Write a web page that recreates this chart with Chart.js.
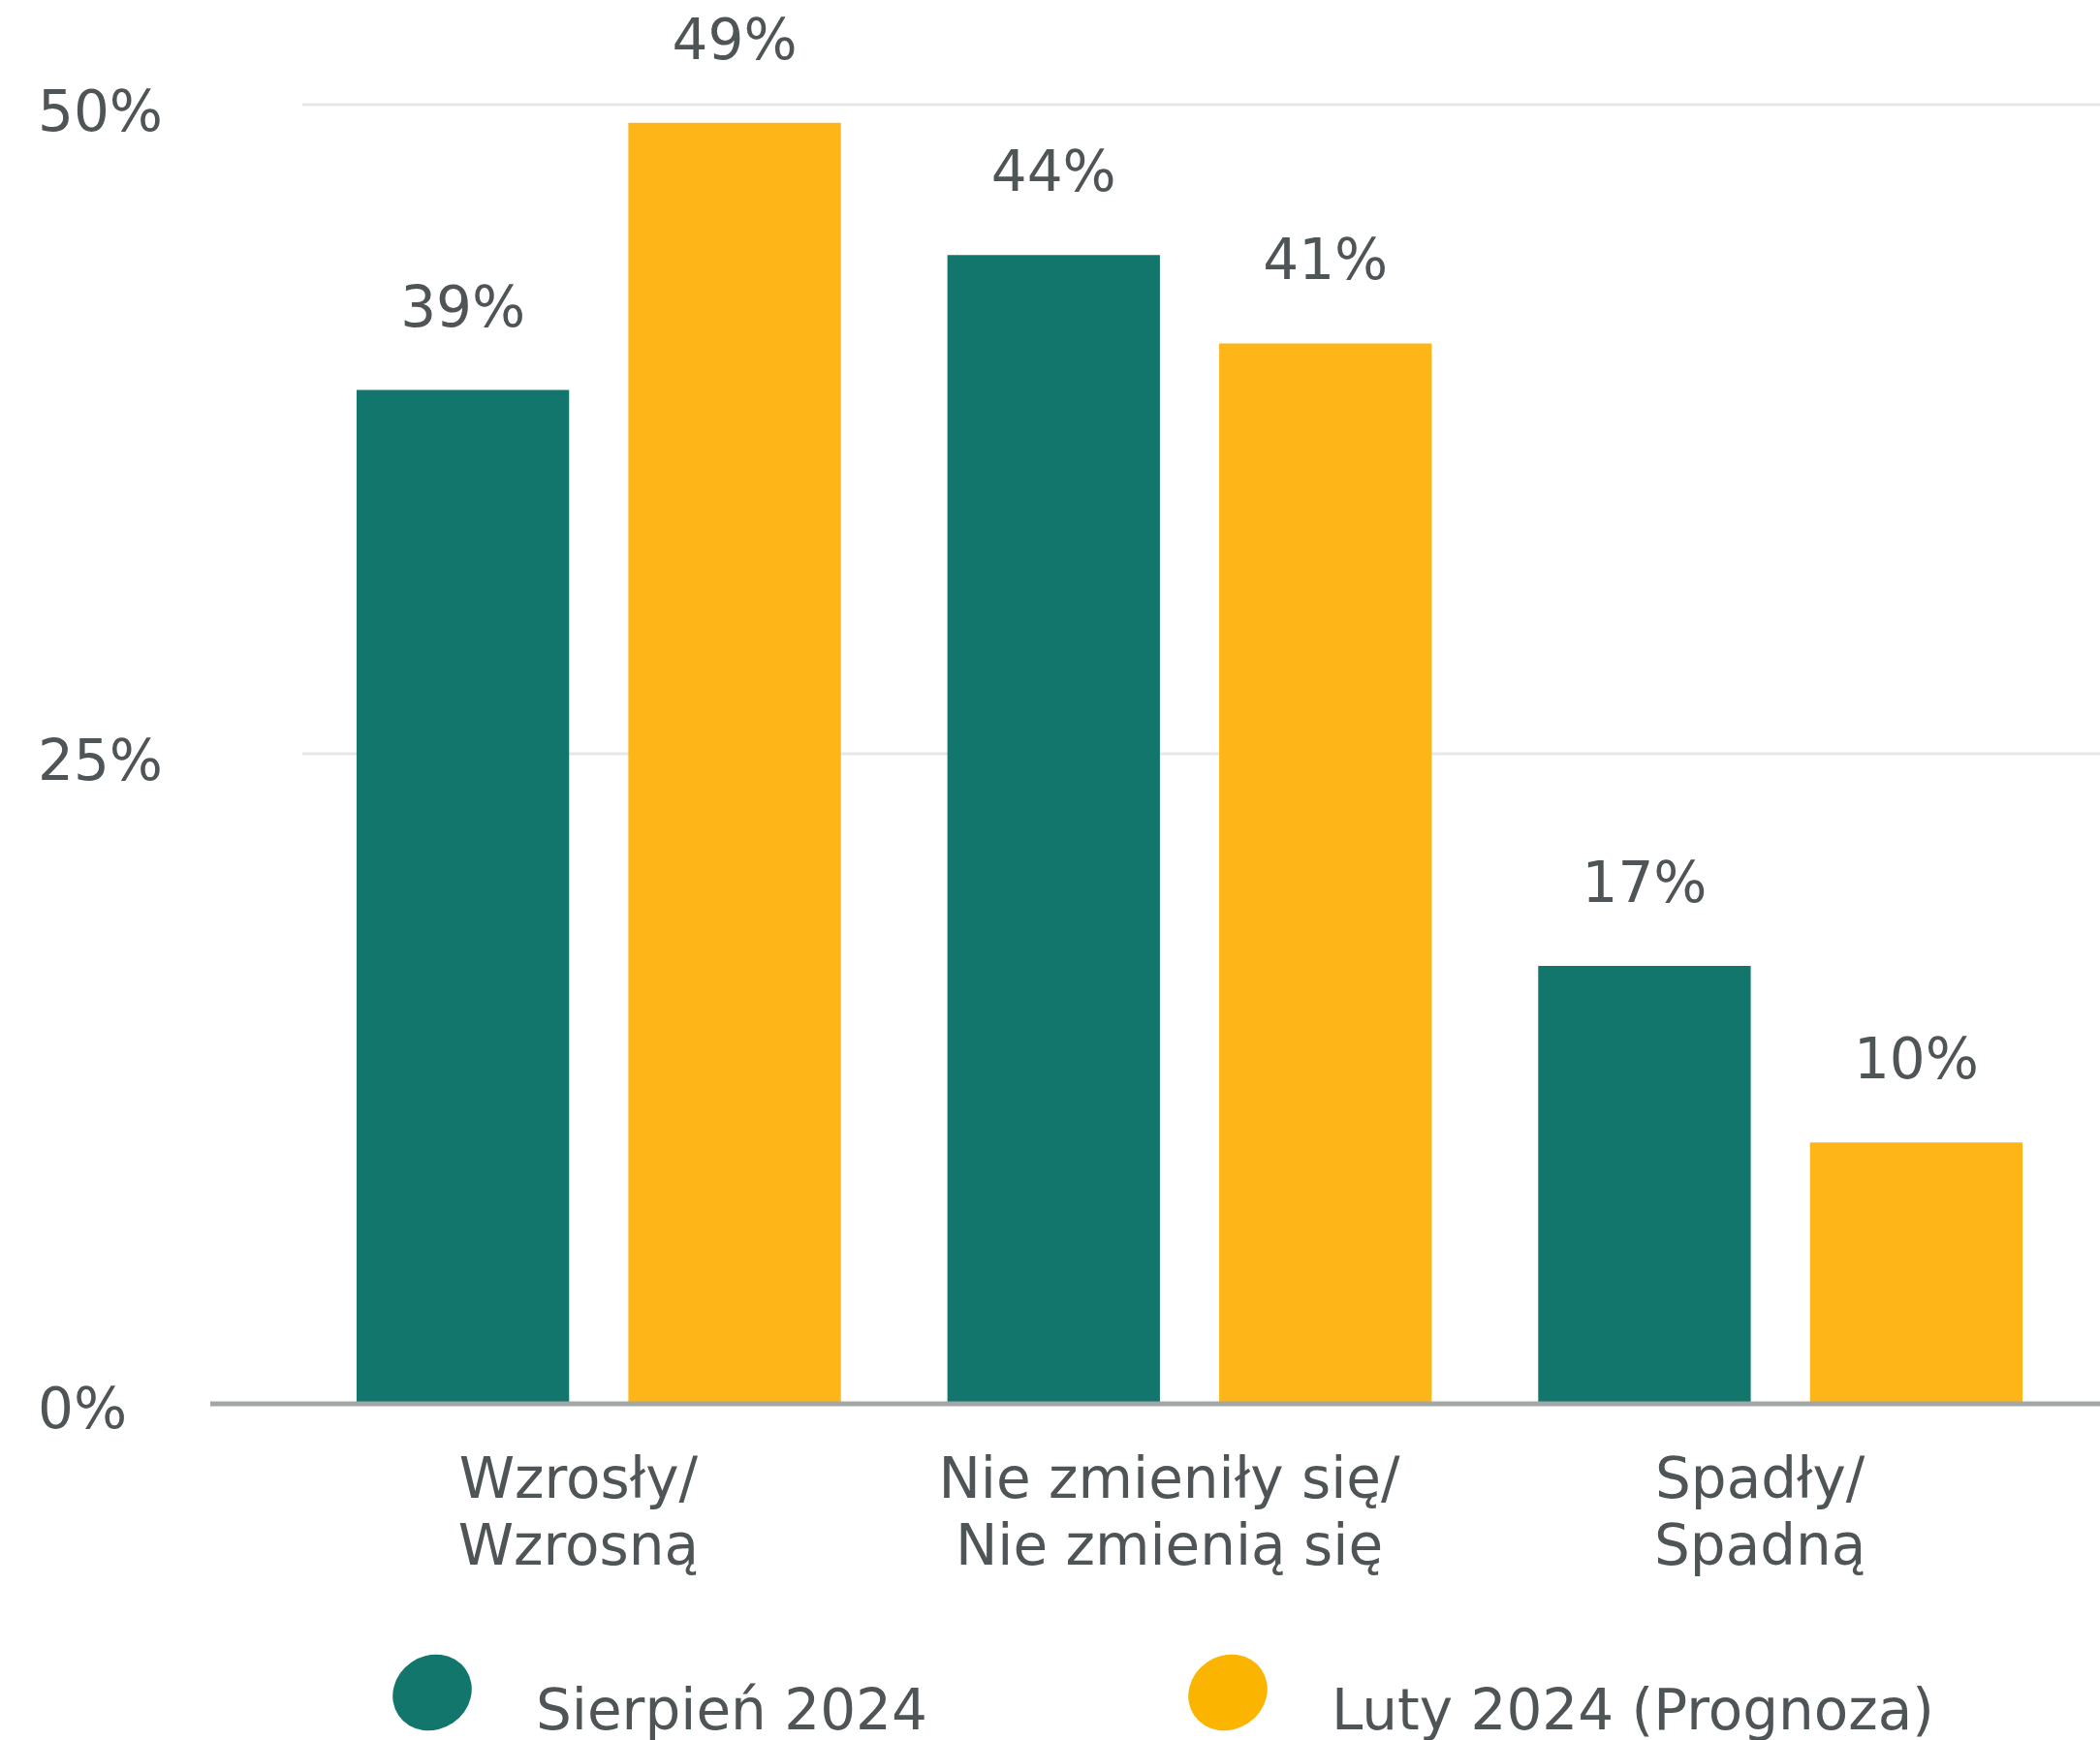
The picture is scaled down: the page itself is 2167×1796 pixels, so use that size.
<!DOCTYPE html>
<html>
<head>
<meta charset="utf-8">
<script src="https://cdn.jsdelivr.net/npm/chart.js@4.4.1/dist/chart.umd.min.js"></script>
<style>
  html, body { margin: 0; padding: 0; background: #fff; }
  canvas { display: block; }
</style>
</head>
<body>
<canvas id="chart" width="2167" height="1796"></canvas>
<script>
// ---- data ----
const categories = [["Wzrosły/", "Wzrosną"], ["Nie zmieniły się/", "Nie zmienią się"], ["Spadły/", "Spadną"]];
const seriesNames = ["Sierpień 2024", "Luty 2024 (Prognoza)"];
const august2024 = [39.0, 44.2, 16.8];
const february2024 = [49.3, 40.8, 10.0];
const yTicks = [0, 25, 50];

const TEAL = "#13766c";
const YELLOW = "#fdb518";
const TEXT = "#4f5557";
const FONT = "'DejaVu Sans', sans-serif";
const FONT_SIZE = 58;

// gridlines + baseline drawn across the full width, like the original
const gridPlugin = {
  id: "grid",
  beforeDatasetsDraw(chart) {
    const { ctx, scales: { y }, chartArea, width } = chart;
    ctx.save();
    yTicks.forEach(v => {
      if (v === 0) return;
      const py = Math.round(y.getPixelForValue(v));
      ctx.strokeStyle = "#e6e7e8";
      ctx.lineWidth = 3;
      ctx.beginPath();
      ctx.moveTo(chartArea.left - 1, py);
      ctx.lineTo(width, py);
      ctx.stroke();
    });
    ctx.restore();
  },
  afterDatasetsDraw(chart) {
    const { ctx, scales: { y }, width } = chart;
    const py = y.getPixelForValue(0) + 2;
    ctx.save();
    ctx.strokeStyle = "#a2a6a6";
    ctx.lineWidth = 5;
    ctx.beginPath();
    ctx.moveTo(217, py);
    ctx.lineTo(width, py);
    ctx.stroke();
    ctx.restore();
  }
};

// value labels above the bars
const valueLabels = {
  id: "valueLabels",
  afterDatasetsDraw(chart) {
    const { ctx } = chart;
    ctx.save();
    ctx.font = FONT_SIZE + "px " + FONT;
    ctx.fillStyle = TEXT;
    ctx.textAlign = "center";
    ctx.textBaseline = "alphabetic";
    chart.data.datasets.forEach((ds, i) => {
      chart.getDatasetMeta(i).data.forEach((bar, j) => {
        ctx.fillText(Math.round(ds.data[j]) + "%", bar.x, bar.y - 66);
      });
    });
    ctx.restore();
  }
};

// legend with blob markers at the bottom
const blobLegend = {
  id: "blobLegend",
  afterDraw(chart) {
    const { ctx } = chart;
    const items = [
      { cx: 446, tx: 553 },
      { cx: 1267, tx: 1374 }
    ];
    ctx.save();
    chart.data.datasets.forEach((ds, i) => {
      const it = items[i];
      ctx.fillStyle = i === 0 ? TEAL : "#fbb400";
      ctx.beginPath();
      ctx.ellipse(it.cx, 1747, 42, 38, -0.6, 0, Math.PI * 2);
      ctx.fill();
      ctx.font = FONT_SIZE + "px " + FONT;
      ctx.fillStyle = TEXT;
      ctx.textAlign = "left";
      ctx.textBaseline = "alphabetic";
      ctx.fillText(ds.label, it.tx, 1785);
    });
    ctx.restore();
  }
};

new Chart(document.getElementById("chart"), {
  type: "bar",
  data: {
    labels: categories,
    datasets: [
      { label: seriesNames[0], data: august2024, backgroundColor: TEAL },
      { label: seriesNames[1], data: february2024, backgroundColor: YELLOW }
    ]
  },
  options: {
    responsive: false,
    animation: false,
    devicePixelRatio: 1,
    layout: { padding: { top: 108, left: 39, right: 25, bottom: 0 } },
    categoryPercentage: 0.92,
    barPercentage: 0.782,
    plugins: { legend: { display: false }, tooltip: { enabled: false } },
    scales: {
      x: {
        grid: { display: false, drawTicks: false },
        border: { display: false },
        ticks: {
          color: TEXT,
          font: { family: FONT, size: FONT_SIZE, lineHeight: 1.18 },
          padding: 50,
          labelOffset: -21,
          maxRotation: 0,
          autoSkip: false
        },
        afterFit(scale) { scale.height = 349; }
      },
      y: {
        min: 0,
        max: 50,
        grid: { display: false, drawTicks: false },
        border: { display: false },
        afterBuildTicks(scale) { scale.ticks = yTicks.map(v => ({ value: v })); },
        ticks: {
          color: TEXT,
          font: { family: FONT, size: FONT_SIZE },
          crossAlign: "far",
          labelOffset: 12,
          callback: v => v + "%"
        },
        afterFit(scale) { scale.width = 274; }
      }
    }
  },
  plugins: [gridPlugin, valueLabels, blobLegend]
});
</script>
</body>
</html>
